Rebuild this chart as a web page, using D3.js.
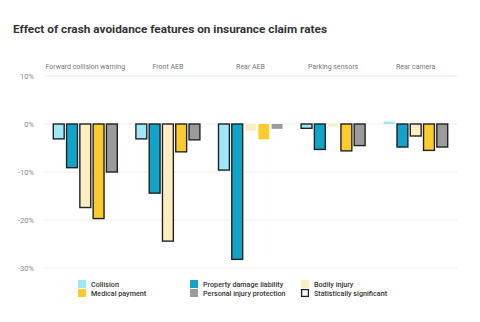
<!DOCTYPE html>
<html><head><meta charset="utf-8">
<script src="https://cdn.jsdelivr.net/npm/d3@7"></script>
<style>body{margin:0;background:#fff;}svg{display:block;font-family:Roboto,"Noto Sans",sans-serif;}</style>
</head><body><svg id="c" width="480" height="322"></svg>
<script>
const features = ["Forward collision warning","Front AEB","Rear AEB","Parking sensors","Rear camera"];
const seriesNames = ["Collision","Property damage liability","Bodily injury","Medical payment","Personal injury protection"];
const seriesColors = ["#9ee6f8","#12a4c8","#fdedc2","#fecc2f","#9b9b9b"];
const collision = [-3.1,-3.1,-9.6,-0.9,0.5];
const propertyDamage = [-9.1,-14.4,-28.2,-5.3,-4.8];
const bodilyInjury = [-17.4,-24.4,-1.4,-0.5,-2.5];
const medicalPayment = [-19.7,-5.8,-3.2,-5.6,-5.5];
const personalInjury = [-10.0,-3.3,-1.0,-4.5,-4.8];
const significant = [
  [true,true,true,true,true],
  [true,true,true,true,true],
  [true,true,false,false,false],
  [true,true,false,true,true],
  [false,true,true,true,true]
];
const yTicks = [10,0,-10,-20,-30];
const title = "Effect of crash avoidance features on insurance claim rates";

const svg = d3.select("#c");
const values = [collision,propertyDamage,bodilyInjury,medicalPayment,personalInjury];
const data = [];
features.forEach((f,fi)=>seriesNames.forEach((s,si)=>data.push({f,s,si,v:values[si][fi],sig:significant[fi][si]})));

const left=44,right=457;
const y = d3.scaleLinear().domain([-30,10]).range([268,76]);
const fx = d3.scaleBand().domain(features).range([left,right]);
const x = d3.scaleBand().domain(seriesNames).range([0,fx.bandwidth()]).paddingInner(0.18).paddingOuter(0.7);

svg.append("text").attr("x",13).attr("y",32.5).text(title)
  .attr("font-size",11.8).attr("font-weight",700).attr("fill","#333");

// gridlines
svg.append("g").selectAll("line").data(yTicks).join("line")
  .attr("x1",left).attr("x2",right).attr("y1",d=>y(d)).attr("y2",d=>y(d))
  .attr("stroke",d=>d===10?"#e2e9f2":"#eeeeee").attr("stroke-width",1);

const yAxis = d3.axisLeft(y).tickValues(yTicks).tickFormat(d=>d+"%").tickSize(0).tickPadding(0);
const ya = svg.append("g").attr("transform","translate(34,0)").call(yAxis);
ya.select(".domain").remove();
ya.selectAll("text").attr("font-size",7.5).attr("fill","#888").attr("font-family","Roboto");

// facet labels
svg.append("g").selectAll("text").data(features).join("text")
  .attr("x",d=>fx(d)+fx.bandwidth()/2).attr("y",69).attr("text-anchor","middle")
  .attr("font-size",7).attr("fill","#777").text(d=>d);

// bars
svg.append("g").selectAll("rect").data(data).join("rect")
  .attr("x",d=>fx(d.f)+x(d.s)).attr("width",x.bandwidth())
  .attr("y",d=>y(Math.max(0,d.v))).attr("height",d=>Math.abs(y(d.v)-y(0)))
  .attr("fill",d=>seriesColors[d.si])
  .attr("stroke",d=>d.sig?"#222":"none").attr("stroke-width",1.4);

// legend
const legendItems = [
  {label:"Collision",color:seriesColors[0],x:78,y:284},
  {label:"Medical payment",color:seriesColors[3],x:78,y:293},
  {label:"Property damage liability",color:seriesColors[1],x:190,y:284},
  {label:"Personal injury protection",color:seriesColors[4],x:190,y:293},
  {label:"Bodily injury",color:seriesColors[2],x:301,y:284},
  {label:"Statistically significant",color:"#fff",x:301,y:293,stroke:true}
];
const lg = svg.append("g").selectAll("g").data(legendItems).join("g")
  .attr("transform",d=>`translate(${d.x},${d.y})`);
lg.append("rect").attr("x",d=>d.stroke?0.6:0).attr("y",d=>d.stroke?-3.4:-4).attr("width",d=>d.stroke?6.8:8).attr("height",d=>d.stroke?6.8:8)
  .attr("fill",d=>d.color).attr("stroke",d=>d.stroke?"#222":"none").attr("stroke-width",1.3);
lg.append("text").attr("x",13).attr("y",3).attr("font-size",7.2).attr("font-weight",500)
  .attr("fill","#333").text(d=>d.label);
</script></body></html>
